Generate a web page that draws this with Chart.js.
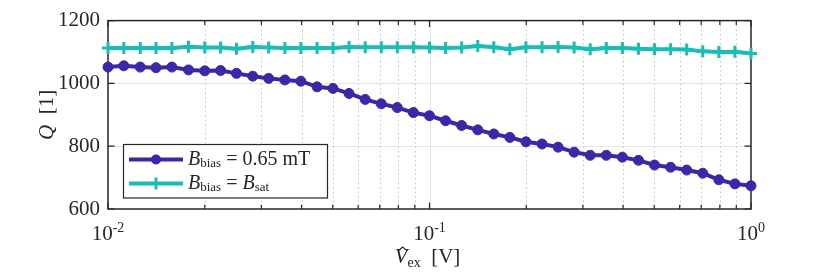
<!DOCTYPE html>
<html>
<head>
<meta charset="utf-8">
<script src="https://cdn.jsdelivr.net/npm/chart.js@4.4.1/dist/chart.umd.min.js"></script>
<style>
    body { margin: 0; background: #fff; }
    canvas { display: block; }
</style>
</head>
<body>
<canvas id="qChart" width="830" height="277"></canvas>
<script>
// excitation amplitude [V], 41 points log-spaced over two decades
const vEx = [
    0.0100, 0.0112, 0.0126, 0.0141, 0.0158, 0.0178, 0.0200, 0.0224, 0.0251, 0.0282,
    0.0316, 0.0355, 0.0398, 0.0447, 0.0501, 0.0562, 0.0631, 0.0708, 0.0794, 0.0891,
    0.1000, 0.1122, 0.1259, 0.1413, 0.1585, 0.1778, 0.1995, 0.2239, 0.2512, 0.2818,
    0.3162, 0.3548, 0.3981, 0.4467, 0.5012, 0.5623, 0.6310, 0.7079, 0.7943, 0.8913,
    1.0000
];

// quality factor, B_bias = 0.65 mT
const qBias065 = [
    1052, 1056, 1052, 1050, 1052, 1043, 1040, 1041, 1032, 1023,
    1016, 1011, 1007, 989, 984, 968, 949, 935, 923, 907,
    897, 881, 866, 852, 839, 828, 814, 807, 797, 781,
    771, 771, 765, 755, 740, 733, 724, 714, 693, 680,
    674
];

// quality factor, B_bias = B_sat
const qBiasSat = [
    1113, 1113, 1113, 1113, 1113, 1117, 1114, 1114, 1110, 1116,
    1114, 1113, 1113, 1113, 1113, 1116, 1115, 1115, 1115, 1115,
    1114, 1113, 1114, 1119, 1115, 1109, 1115, 1115, 1116, 1114,
    1109, 1113, 1113, 1110, 1109, 1109, 1108, 1102, 1100, 1101,
    1095
];

const yTicks = [600, 800, 1000, 1200];
const xDecades = [0.01, 0.1, 1];
const xDecadeExp = ["-2", "-1", "0"];
const xMinor = [0.02, 0.03, 0.04, 0.05, 0.06, 0.07, 0.08, 0.09, 0.2, 0.3, 0.4, 0.5, 0.6, 0.7, 0.8, 0.9];

const BLUE = "#3E26A8";
const CYAN = "#1ABDB5";
const AXIS = "#262626";
const SERIF = '"Liberation Serif", "DejaVu Serif", serif';
const F_MAIN = "21px " + SERIF;
const F_ITAL = "italic 21px " + SERIF;
const F_SUB = "14px " + SERIF;
const F_LEG = "20px " + SERIF;
const F_LEG_IT = "italic 20px " + SERIF;
const F_LEG_SUB = "13px " + SERIF;

// text pieces: [text, font, baseline shift]
const legendRuns = [
    [["B", F_LEG_IT, 0], ["bias", F_LEG_SUB, 4], [" = 0.65 mT", F_LEG, 0]],
    [["B", F_LEG_IT, 0], ["bias", F_LEG_SUB, 4], [" = ", F_LEG, 0], ["B", F_LEG_IT, 0], ["sat", F_LEG_SUB, 4]]
];

const runsWidth = (ctx, runs) => runs.reduce((w, r) => {
    ctx.font = r[1];
    return w + ctx.measureText(r[0]).width;
}, 0);

const drawRuns = (ctx, runs, x, y) => {
    let cx = x;
    const starts = [];
    runs.forEach(([text, font, dy]) => {
        ctx.font = font;
        starts.push(cx);
        ctx.fillText(text, cx, y + dy);
        cx += ctx.measureText(text).width;
    });
    return starts;
};

const matlabAxes = {
    id: "matlabAxes",
    beforeDatasetsDraw(chart) {
        const { ctx, chartArea: a, scales } = chart;
        const xs = scales.x, ys = scales.y;
        ctx.save();

        // major grid
        ctx.strokeStyle = "#e4e4e4";
        ctx.lineWidth = 1;
        ctx.beginPath();
        yTicks.slice(1, -1).forEach(v => {
            const py = Math.round(ys.getPixelForValue(v)) + 0.5;
            ctx.moveTo(a.left, py); ctx.lineTo(a.right, py);
        });
        xDecades.slice(1, -1).forEach(v => {
            const px = Math.round(xs.getPixelForValue(v)) + 0.5;
            ctx.moveTo(px, a.top); ctx.lineTo(px, a.bottom);
        });
        ctx.stroke();

        // minor x grid, dotted
        ctx.strokeStyle = "#c4c4c4";
        ctx.setLineDash([1.5, 3]);
        ctx.beginPath();
        xMinor.forEach(v => {
            const px = Math.round(xs.getPixelForValue(v)) + 0.5;
            ctx.moveTo(px, a.top); ctx.lineTo(px, a.bottom);
        });
        ctx.stroke();
        ctx.setLineDash([]);

        // box
        ctx.strokeStyle = AXIS;
        ctx.lineWidth = 1.5;
        ctx.strokeRect(a.left, a.top, a.right - a.left, a.bottom - a.top);

        // inward ticks
        ctx.lineWidth = 1.2;
        ctx.beginPath();
        yTicks.forEach(v => {
            const py = ys.getPixelForValue(v);
            ctx.moveTo(a.left, py); ctx.lineTo(a.left + 6.5, py);
            ctx.moveTo(a.right, py); ctx.lineTo(a.right - 6.5, py);
        });
        xDecades.forEach(v => {
            const px = xs.getPixelForValue(v);
            ctx.moveTo(px, a.bottom); ctx.lineTo(px, a.bottom - 6.5);
            ctx.moveTo(px, a.top); ctx.lineTo(px, a.top + 6.5);
        });
        xMinor.forEach(v => {
            const px = xs.getPixelForValue(v);
            ctx.moveTo(px, a.bottom); ctx.lineTo(px, a.bottom - 4.3);
            ctx.moveTo(px, a.top); ctx.lineTo(px, a.top + 4.3);
        });
        ctx.stroke();

        // x tick labels 10^n
        ctx.fillStyle = AXIS;
        ctx.textBaseline = "alphabetic";
        ctx.textAlign = "left";
        xDecades.forEach((v, i) => {
            const px = xs.getPixelForValue(v);
            const runs = [["10", F_MAIN, 0], [xDecadeExp[i], F_SUB, -8]];
            const w = runsWidth(ctx, runs);
            drawRuns(ctx, runs, px - w / 2, a.bottom + 31);
        });

        // axis titles
        const xt = [["V", F_ITAL, 0], ["ex", F_SUB, 4], ["  [V]", F_MAIN, 0]];
        const xtw = runsWidth(ctx, xt);
        const xt0 = (a.left + a.right) / 2 - xtw / 2 - 2;
        const starts = drawRuns(ctx, xt, xt0, a.bottom + 54);
        ctx.font = F_ITAL;
        const hx = starts[0] + ctx.measureText("V").width * 0.62;
        const hy = a.bottom + 38;
        ctx.lineWidth = 1.1;
        ctx.beginPath();
        ctx.moveTo(hx - 4, hy + 3.5); ctx.lineTo(hx, hy); ctx.lineTo(hx + 4, hy + 3.5);
        ctx.stroke();

        ctx.save();
        ctx.translate(53, (a.top + a.bottom) / 2);
        ctx.rotate(-Math.PI / 2);
        const yt = [["Q", F_ITAL, 0], ["  [1]", F_MAIN, 0]];
        drawRuns(ctx, yt, -runsWidth(ctx, yt) / 2, 0);
        ctx.restore();

        ctx.restore();
    },
    afterDatasetsDraw(chart) {
        const { ctx } = chart;
        const datasets = chart.data.datasets;
        ctx.save();
        ctx.fillStyle = "#fff";
        ctx.fillRect(123.5, 144.5, 204, 53.5);
        ctx.strokeStyle = AXIS;
        ctx.lineWidth = 1.2;
        ctx.strokeRect(123.5, 144.5, 204, 53.5);

        const rows = [159.5, 183.5];
        rows.forEach((ry, i) => {
            const ds = datasets[i];
            ctx.strokeStyle = ds.borderColor;
            ctx.lineWidth = 4;
            ctx.beginPath();
            ctx.moveTo(129, ry); ctx.lineTo(183, ry);
            ctx.stroke();
            if (i === 0) {
                ctx.fillStyle = ds.borderColor;
                ctx.beginPath();
                ctx.arc(156, ry, 5, 0, Math.PI * 2);
                ctx.fill();
            } else {
                ctx.lineWidth = 3;
                ctx.beginPath();
                ctx.moveTo(156, ry - 6); ctx.lineTo(156, ry + 6);
                ctx.stroke();
            }
            ctx.fillStyle = AXIS;
            ctx.textBaseline = "middle";
            drawRuns(ctx, legendRuns[i], 188, ry);
        });
        ctx.restore();
    }
};

const ctx = document.getElementById("qChart").getContext("2d");

new Chart(ctx, {
    type: "line",
    data: {
        datasets: [
            {
                label: "B_bias = 0.65 mT",
                data: vEx.map((x, i) => ({ x: x, y: qBias065[i] })),
                borderColor: BLUE,
                backgroundColor: BLUE,
                borderWidth: 4,
                pointStyle: "circle",
                pointRadius: 5,
                pointBorderWidth: 1,
                tension: 0,
                clip: false
            },
            {
                label: "B_bias = B_sat",
                data: vEx.map((x, i) => ({ x: x, y: qBiasSat[i] })),
                borderColor: CYAN,
                backgroundColor: CYAN,
                borderWidth: 4,
                pointStyle: "cross",
                pointRadius: 6,
                pointBorderWidth: 3,
                tension: 0,
                clip: false
            }
        ]
    },
    options: {
        responsive: false,
        animation: false,
        devicePixelRatio: 1,
        layout: { padding: { left: 0, right: 79, top: 20, bottom: 0 } },
        scales: {
            x: {
                type: "logarithmic",
                min: 0.01,
                max: 1,
                ticks: { display: false },
                grid: { display: false, drawTicks: false },
                border: { display: false },
                afterFit: (scale) => { scale.height = 68; }
            },
            y: {
                type: "linear",
                min: 600,
                max: 1200,
                ticks: {
                    stepSize: 200,
                    padding: 8,
                    color: AXIS,
                    font: { family: SERIF, size: 21 },
                    callback: (v) => String(v)
                },
                grid: { display: false, drawTicks: false, tickLength: 0 },
                border: { display: false },
                afterFit: (scale) => { scale.width = 108; }
            }
        },
        plugins: {
            legend: { display: false },
            tooltip: { enabled: false }
        }
    },
    plugins: [matlabAxes]
});
</script>
</body>
</html>
